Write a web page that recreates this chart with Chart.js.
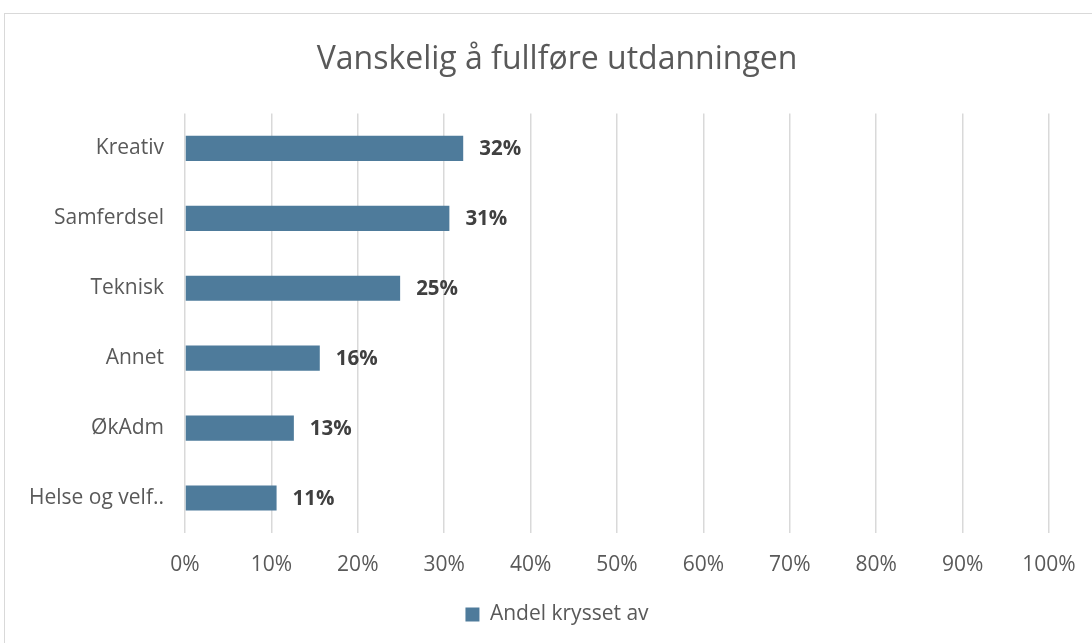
<!DOCTYPE html>
<html>
<head>
<meta charset="utf-8">
<script src="https://cdn.jsdelivr.net/npm/chart.js@4.4.1/dist/chart.umd.min.js"></script>
<style>
  html, body { margin: 0; padding: 0; background: #ffffff; overflow: hidden; width: 1092px; height: 643px; }
  #box { position: absolute; left: 4px; top: 13px; width: 1106px; height: 650px; border: 1px solid #d9d9d9; box-sizing: border-box; background: #fff; }
  #c { display: block; }
</style>
</head>
<body>
<div id="box"><canvas id="c" width="1104" height="648"></canvas></div>
<script>
const categories = ["Kreativ", "Samferdsel", "Teknisk", "Annet", "ØkAdm", "Helse og velf.."];
const values = [0.322, 0.306, 0.249, 0.156, 0.126, 0.106];
const seriesName = "Andel krysset av";
const xTicks = [0, 0.1, 0.2, 0.3, 0.4, 0.5, 0.6, 0.7, 0.8, 0.9, 1.0];

const FONT = "'Open Sans', Lato, sans-serif";
const BAR = "#4e7b9b";

const valueLabels = {
  id: 'valueLabels',
  afterDatasetsDraw(chart) {
    const ctx = chart.ctx;
    const meta = chart.getDatasetMeta(0);
    ctx.save();
    ctx.font = "bold 20.5px " + FONT;
    ctx.fillStyle = "#404040";
    ctx.textAlign = "left";
    ctx.textBaseline = "middle";
    meta.data.forEach((bar, i) => {
      const v = chart.data.datasets[0].data[i];
      ctx.fillText(Math.round(v * 100) + "%", bar.x + 16, bar.y + 1);
    });
    ctx.restore();
  }
};

new Chart(document.getElementById('c'), {
  type: 'bar',
  data: {
    labels: categories,
    datasets: [{
      label: seriesName,
      data: values,
      backgroundColor: BAR,
      borderWidth: 0,
      categoryPercentage: 1.0,
      barPercentage: 0.36
    }]
  },
  options: {
    indexAxis: 'y',
    responsive: false,
    animation: false,
    devicePixelRatio: 1,
    layout: { padding: { left: 0, right: 0, top: 0, bottom: 27 } },
    plugins: {
      title: {
        display: true,
        text: "Vanskelig å fullføre utdanningen",
        color: "#595959",
        font: { family: FONT, size: 32, weight: 'normal' },
        padding: { top: 27, bottom: 34 }
      },
      legend: {
        display: true,
        position: 'bottom',
        labels: {
          color: "#595959",
          font: { family: FONT, size: 21 },
          boxWidth: 14,
          boxHeight: 14,
          padding: 10
        }
      },
      tooltip: { enabled: false }
    },
    scales: {
      x: {
        min: 0,
        max: 1,
        afterBuildTicks(axis) { axis.ticks = xTicks.map(v => ({ value: v })); },
        afterFit(axis) { axis.height = 61; axis.paddingRight = 60; },
        grid: { color: "#d9d9d9", lineWidth: 1.5, drawTicks: false },
        border: { display: false },
        ticks: {
          color: "#595959",
          font: { family: FONT, size: 21 },
          padding: 19,
          callback: (v) => Math.round(v * 100) + "%"
        }
      },
      y: {
        afterFit(axis) { axis.width = 180; },
        grid: { display: false, drawTicks: false },
        border: { display: false },
        ticks: {
          color: "#595959",
          font: { family: FONT, size: 21 },
          padding: 21
        }
      }
    }
  },
  plugins: [valueLabels]
});
</script>
</body>
</html>
